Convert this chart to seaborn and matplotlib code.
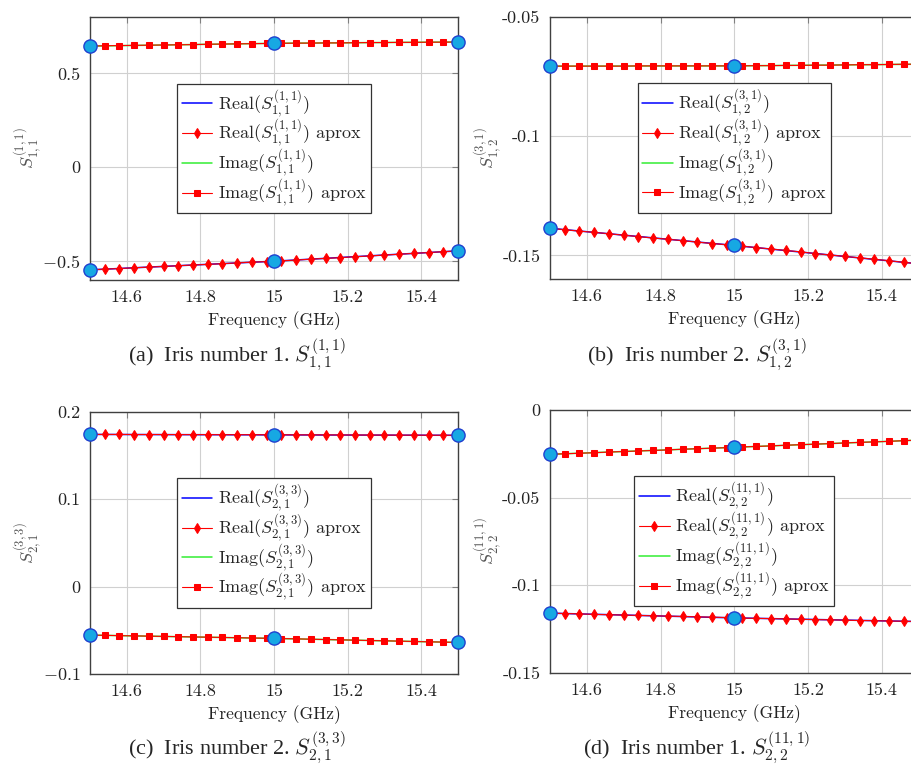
import numpy as np
import pandas as pd
import matplotlib
matplotlib.use("Agg")
import matplotlib.pyplot as plt
import seaborn as sns

# frequency grid of the approximation (GHz) and of the exact samples
freq_aprox = [14.50, 14.54, 14.58, 14.62, 14.66, 14.70, 14.74, 14.78, 14.82, 14.86,
              14.90, 14.94, 14.98, 15.02, 15.06, 15.10, 15.14, 15.18, 15.22, 15.26,
              15.30, 15.34, 15.38, 15.42, 15.46, 15.50]
freq_exact = [14.5, 15.0, 15.5]

# (a) S_{1,1}^{(1,1)}
a_real = [-0.546, -0.500, -0.445]
a_imag = [0.645, 0.660, 0.667]
a_real_apx = [-0.546, -0.542, -0.539, -0.535, -0.531, -0.528, -0.524, -0.520, -0.517, -0.513,
              -0.509, -0.505, -0.502, -0.498, -0.494, -0.489, -0.485, -0.481, -0.476, -0.472,
              -0.467, -0.463, -0.458, -0.454, -0.449, -0.445]
a_imag_apx = [0.645, 0.647, 0.648, 0.649, 0.650, 0.651, 0.652, 0.653, 0.655, 0.656,
              0.657, 0.658, 0.659, 0.660, 0.661, 0.661, 0.662, 0.662, 0.663, 0.664,
              0.664, 0.665, 0.665, 0.666, 0.666, 0.667]

# (b) S_{1,2}^{(3,1)}
b_real = [-0.1386, -0.1458, -0.1535]
b_imag = [-0.0706, -0.0705, -0.0698]
b_real_apx = [-0.1386, -0.1392, -0.1398, -0.1403, -0.1409, -0.1415, -0.1421, -0.1427, -0.1432, -0.1438,
              -0.1444, -0.1450, -0.1455, -0.1461, -0.1467, -0.1473, -0.1479, -0.1485, -0.1492, -0.1498,
              -0.1504, -0.1510, -0.1516, -0.1522, -0.1529, -0.1535]
b_imag_apx = [-0.0706, -0.0706, -0.0706, -0.0706, -0.0706, -0.0706, -0.0705, -0.0705, -0.0705, -0.0705,
              -0.0705, -0.0705, -0.0705, -0.0705, -0.0704, -0.0704, -0.0703, -0.0703, -0.0702, -0.0702,
              -0.0701, -0.0700, -0.0700, -0.0699, -0.0698, -0.0698]

# (c) S_{2,1}^{(3,3)}
c_real = [0.1740, 0.1735, 0.1730]
c_imag = [-0.0555, -0.0593, -0.0639]
c_real_apx = [0.1740, 0.1740, 0.1740, 0.1739, 0.1739, 0.1739, 0.1738, 0.1738, 0.1738, 0.1737,
              0.1737, 0.1737, 0.1736, 0.1736, 0.1735, 0.1735, 0.1735, 0.1734, 0.1734, 0.1733,
              0.1733, 0.1732, 0.1732, 0.1731, 0.1731, 0.1730]
c_imag_apx = [-0.0555, -0.0558, -0.0561, -0.0564, -0.0567, -0.0570, -0.0573, -0.0576, -0.0579, -0.0582,
              -0.0585, -0.0588, -0.0591, -0.0595, -0.0598, -0.0602, -0.0606, -0.0609, -0.0613, -0.0617,
              -0.0620, -0.0624, -0.0628, -0.0632, -0.0635, -0.0639]

# (d) S_{2,2}^{(11,1)}
d_real = [-0.1160, -0.1187, -0.1208]
d_imag = [-0.0253, -0.0213, -0.0172]
d_real_apx = [-0.1160, -0.1162, -0.1164, -0.1167, -0.1169, -0.1171, -0.1173, -0.1175, -0.1177, -0.1179,
              -0.1181, -0.1183, -0.1185, -0.1188, -0.1190, -0.1191, -0.1193, -0.1195, -0.1197, -0.1198,
              -0.1200, -0.1202, -0.1203, -0.1205, -0.1206, -0.1208]
d_imag_apx = [-0.0253, -0.0250, -0.0247, -0.0244, -0.0240, -0.0237, -0.0234, -0.0231, -0.0228, -0.0224,
              -0.0221, -0.0218, -0.0215, -0.0211, -0.0208, -0.0205, -0.0201, -0.0198, -0.0195, -0.0192,
              -0.0188, -0.0185, -0.0182, -0.0179, -0.0175, -0.0172]

x_ticks = [14.6, 14.8, 15.0, 15.2, 15.4]
x_ticklabels = ['14.6', '14.8', '15', '15.2', '15.4']

panels = [
    dict(sym=r'S_{1,1}^{(1,1)}', real=a_real, imag=a_imag, real_apx=a_real_apx, imag_apx=a_imag_apx,
         ylim=(-0.6, 0.8), yticks=[-0.5, 0, 0.5], yticklabels=[r'$-0.5$', '0', '0.5'],
         caption=r'(a)  Iris number 1. $S_{1,1}^{(1,1)}$',
         rect=[90, 17, 458, 280], cap_xy=(237, 362)),
    dict(sym=r'S_{1,2}^{(3,1)}', real=b_real, imag=b_imag, real_apx=b_real_apx, imag_apx=b_imag_apx,
         ylim=(-0.16, -0.05), yticks=[-0.15, -0.1, -0.05], yticklabels=['-0.15', '-0.1', '-0.05'],
         caption=r'(b)  Iris number 2. $S_{1,2}^{(3,1)}$',
         rect=[550, 17, 918.6, 279.3], cap_xy=(697, 362)),
    dict(sym=r'S_{2,1}^{(3,3)}', real=c_real, imag=c_imag, real_apx=c_real_apx, imag_apx=c_imag_apx,
         ylim=(-0.1, 0.2), yticks=[-0.1, 0, 0.1, 0.2], yticklabels=[r'$-0.1$', '0', '0.1', '0.2'],
         caption=r'(c)  Iris number 2. $S_{2,1}^{(3,3)}$',
         rect=[90, 411.7, 458, 674], cap_xy=(237, 755)),
    dict(sym=r'S_{2,2}^{(11,1)}', real=d_real, imag=d_imag, real_apx=d_real_apx, imag_apx=d_imag_apx,
         ylim=(-0.15, 0.0), yticks=[-0.15, -0.1, -0.05, 0], yticklabels=['-0.15', '-0.1', '-0.05', '0'],
         caption=r'(d)  Iris number 1. $S_{2,2}^{(11,1)}$',
         rect=[550, 410, 918.6, 672.7], cap_xy=(697, 755)),
]

sns.set_style('white')
plt.rcParams['font.family'] = ['cmr10', 'DejaVu Serif']
plt.rcParams['mathtext.fontset'] = 'cm'
plt.rcParams['axes.formatter.use_mathtext'] = True
plt.rcParams['axes.unicode_minus'] = False

W, H = 912, 764
fig = plt.figure(figsize=(W / 100, H / 100), dpi=100)

for p in panels:
    l, t, r, b = p['rect']
    ax = fig.add_axes([l / W, 1 - b / H, (r - l) / W, (b - t) / H])

    sns.lineplot(x=freq_exact, y=p['real'], ax=ax, color='blue', lw=1.1,
                 label=r'$\mathrm{Real}(%s)$' % p['sym'], zorder=3)
    sns.lineplot(x=freq_aprox, y=p['real_apx'], ax=ax, color='red', lw=0.8,
                 marker='d', markersize=5.5, markeredgecolor='red', markerfacecolor='red',
                 label=r'$\mathrm{Real}(%s)$ aprox' % p['sym'], zorder=4)
    sns.lineplot(x=freq_exact, y=p['imag'], ax=ax, color='#33ee33', lw=1.1,
                 label=r'$\mathrm{Imag}(%s)$' % p['sym'], zorder=3)
    sns.lineplot(x=freq_aprox, y=p['imag_apx'], ax=ax, color='red', lw=0.8,
                 marker='s', markersize=5, markeredgecolor='red', markerfacecolor='red',
                 label=r'$\mathrm{Imag}(%s)$ aprox' % p['sym'], zorder=4)

    for vals in (p['real'], p['imag']):
        ax.plot(freq_exact, vals, linestyle='none', marker='o', markersize=9.5,
                markerfacecolor='#17a8e3', markeredgecolor='#2040d0', markeredgewidth=1.0,
                clip_on=False, zorder=6)

    ax.set_xlim(14.5, 15.5)
    ax.set_ylim(*p['ylim'])
    ax.set_xticks(x_ticks)
    ax.set_xticklabels(x_ticklabels)
    ax.set_yticks(p['yticks'])
    ax.set_yticklabels(p['yticklabels'])
    ax.tick_params(direction='in', length=4, width=0.8, color='#808080',
                   top=True, right=True, labelsize=13, pad=7, labelcolor='#222222')
    ax.grid(True, color='#d0d0d0', lw=0.8)
    for s in ax.spines.values():
        s.set_color('#404040')
        s.set_linewidth(1.0)

    ax.set_xlabel('Frequency (GHz)', fontsize=12.5, color='#222222')
    ax.xaxis.set_label_coords(0.5, -0.12)
    ax.set_ylabel(r'$%s$' % p['sym'], fontsize=13, color='#555555')
    ax.yaxis.set_label_coords(-0.125, 0.5)

    leg = ax.legend(loc='center', fontsize=13, frameon=True, fancybox=False,
                    framealpha=1, edgecolor='#333333', borderpad=0.25,
                    labelspacing=-0.1, handlelength=1.7, handletextpad=0.3,
                    borderaxespad=0)
    leg.get_frame().set_linewidth(0.9)
    leg.set_zorder(10)

    fig.text(p['cap_xy'][0] / W, 1 - p['cap_xy'][1] / H, p['caption'],
             ha='center', va='baseline', fontsize=16, family=['Liberation Serif', 'DejaVu Serif'])

fig.savefig('out.png', dpi=100)
